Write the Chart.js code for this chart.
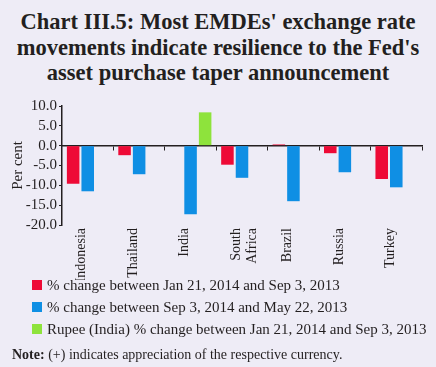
<!DOCTYPE html>
<html>
<head>
<meta charset="utf-8">
<script src="https://cdn.jsdelivr.net/npm/chart.js@4.4.1/dist/chart.umd.min.js"></script>
<style>
  html, body { margin: 0; padding: 0; }
  body { width: 436px; height: 367px; background: #eeecf6; position: relative; overflow: hidden;
         font-family: "Liberation Serif", "Times New Roman", serif; color: #231f20; }
  #title { position: absolute; top: 9px; left: 0; width: 436px; text-align: center;
           font-weight: bold; font-size: 22.5px; line-height: 25.5px; }
  #wrap { position: absolute; top: 90px; left: 0; width: 436px; height: 190px; }
  #legend { position: absolute; top: 274px; left: 32px; font-size: 15px; }
  .item { height: 22px; line-height: 22px; white-space: nowrap; }
  .sw { display: inline-block; width: 10px; height: 10px; margin-right: 5px; vertical-align: 0px; }
  #note { position: absolute; top: 347px; left: 12px; font-size: 14px; white-space: nowrap; }
</style>
</head>
<body>
<div id="title">Chart III.5: Most EMDEs' exchange rate<br>movements indicate resilience to the Fed's<br>asset purchase taper announcement</div>
<div id="wrap"><canvas id="chart"></canvas></div>
<div id="legend"></div>
<div id="note"><b>Note:</b> (+) indicates appreciation of the respective currency.</div>
<script>
// categories and series
const countries = ['Indonesia', 'Thailand', 'India', ['South', 'Africa'], 'Brazil', 'Russia', 'Turkey'];
const janVsSep = [-9.6, -2.4, null, -4.8, 0.3, -1.9, -8.4];
const sepVsMay = [-11.5, -7.2, -17.3, -8.1, -14.0, -6.7, -10.5];
const rupeeJanVsSep = [null, null, 8.4, null, null, null, null];
const yTicks = [10, 5, 0, -5, -10, -15, -20];

const seriesNames = [
    '% change between Jan 21, 2014 and Sep 3, 2013',
    '% change between Sep 3, 2014 and May 22, 2013',
    'Rupee (India) % change between Jan 21, 2014 and Sep 3, 2013'
];
const seriesColors = ['#ee0a36', '#0f8fe4', '#8ee33c'];

const serif = '"Liberation Serif", "Times New Roman", serif';
const ink = '#231f20';

var config = {
    type: 'bar',
    data: {
        labels: countries,
        datasets: [janVsSep, sepVsMay, rupeeJanVsSep].map(function(values, i) {
            return {
                label: seriesNames[i],
                data: values,
                backgroundColor: seriesColors[i],
                borderWidth: 0,
                categoryPercentage: 0.85,
                barPercentage: 0.86,
                xAxisID: 'x'
            };
        })
    },
    options: {
        responsive: true,
        maintainAspectRatio: false,
        animation: false,
        layout: {
            padding: { left: 0, right: 14, top: 16, bottom: 0 }
        },
        scales: {
            // axis line at zero, with tick marks between countries
            x: {
                type: 'category',
                position: { y: 0 },
                grid: {
                    offset: true,
                    drawOnChartArea: false,
                    drawTicks: true,
                    tickLength: 4,
                    color: ink
                },
                border: { display: true, color: ink, width: 1.5 },
                ticks: { callback: function() { return ''; } }
            },
            // country names along the bottom
            x2: {
                type: 'category',
                position: 'bottom',
                labels: countries,
                grid: { display: false },
                border: { display: false },
                ticks: {
                    minRotation: 90,
                    maxRotation: 90,
                    autoSkip: false,
                    padding: -5,
                    labelOffset: -6,
                    color: ink,
                    font: { family: serif, size: 14 }
                },
                afterFit: function(scale) { scale.height = 55; }
            },
            y: {
                min: -20,
                max: 10,
                afterBuildTicks: function(scale) {
                    scale.ticks = yTicks.map(function(v) { return { value: v }; });
                },
                grid: {
                    drawOnChartArea: false,
                    drawTicks: true,
                    tickLength: 3,
                    color: ink
                },
                border: { display: true, color: ink, width: 1.5 },
                ticks: {
                    autoSkip: false,
                    color: ink,
                    padding: 2,
                    font: { family: serif, size: 15 },
                    callback: function(value) { return value.toFixed(1); }
                },
                title: {
                    display: true,
                    text: 'Per cent',
                    color: ink,
                    padding: { top: 9, bottom: 2 },
                    font: { family: serif, size: 15 }
                },
                afterFit: function(scale) { scale.width = 62; }
            }
        },
        plugins: {
            legend: { display: false },
            tooltip: { enabled: false }
        }
    }
};

new Chart(document.getElementById('chart').getContext('2d'), config);

// legend rows built from the same series names and colours
var legend = document.getElementById('legend');
seriesNames.forEach(function(name, i) {
    var row = document.createElement('div');
    row.className = 'item';
    row.innerHTML = '<span class="sw" style="background:' + seriesColors[i] + '"></span>' + name;
    legend.appendChild(row);
});
</script>
</body>
</html>
